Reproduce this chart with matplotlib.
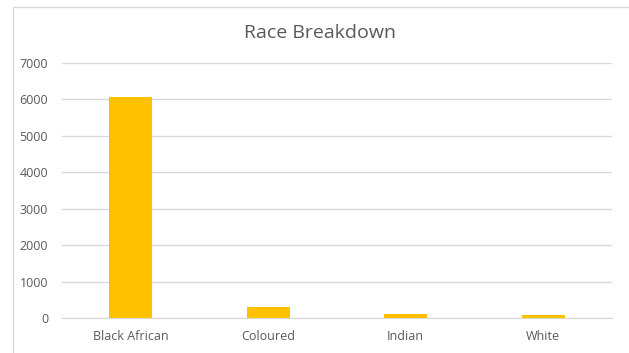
import matplotlib
matplotlib.use("Agg")
import matplotlib.pyplot as plt
from matplotlib.patches import Rectangle

categories = ["Black African", "Coloured", "Indian", "White"]
values = [6070, 300, 100, 70]
yticks = [0, 1000, 2000, 3000, 4000, 5000, 6000, 7000]

plt.rcParams['font.family'] = ['Open Sans', 'DejaVu Sans']
fig = plt.figure(figsize=(6.29, 3.53), dpi=100)
fig.patches.append(Rectangle((13/629, -0.05), 1.0, 1 - 7/353 + 0.05, transform=fig.transFigure,
                             fill=False, edgecolor='#d9d9d9', linewidth=1.0))
ax = fig.add_axes([62/629, 1 - 318/353, 550/629, 255/353])
ax.bar(range(len(categories)), values, width=0.31, color='#ffc000', zorder=3)
ax.set_xlim(-0.5, len(categories) - 0.5)
ax.set_ylim(0, 7000)
ax.set_yticks(yticks)
ax.set_yticklabels([str(v) for v in yticks])
ax.set_xticks(range(len(categories)))
ax.set_xticklabels(categories)
ax.grid(axis='y', color='#d9d9d9', linewidth=1.0, zorder=0)
for s in ['top', 'right', 'left']:
    ax.spines[s].set_visible(False)
ax.spines['bottom'].set_color('#d9d9d9')
ax.tick_params(axis='both', length=0, colors='#595959', labelsize=9)
ax.tick_params(axis='y', pad=10)
ax.tick_params(axis='x', pad=9)
fig.text(320/629, 1 - 33/353, "Race Breakdown", ha='center', va='center', fontsize=14, color='#595959')
fig.savefig("out.png", dpi=100)
